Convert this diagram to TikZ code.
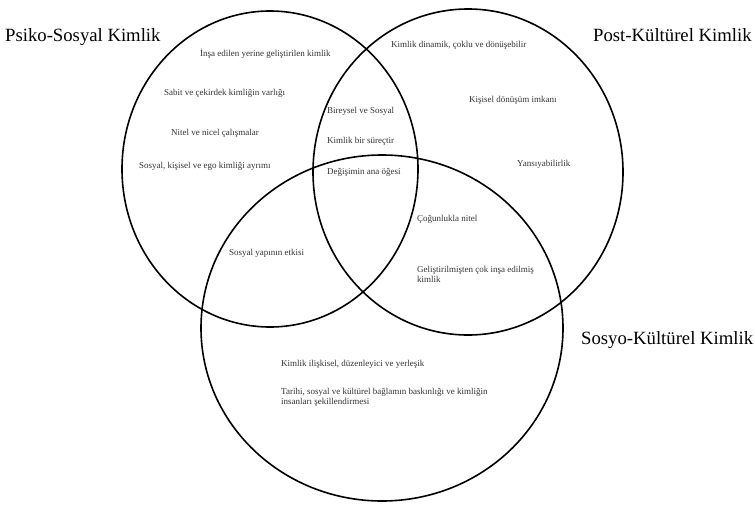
\documentclass[tikz,border=0pt]{standalone}
\usepackage{fontspec}
\setmainfont{Liberation Serif}
\usetikzlibrary{shapes.geometric}
\begin{document}
\begin{tikzpicture}[x=1pt,y=-1pt,
  ring/.style={draw=black, line width=1.6pt, ellipse, inner sep=0pt},
  small/.style={font=\fontsize{9}{10}\selectfont, text=black!80, anchor=base west, inner sep=0pt, align=left},
  big/.style={font=\fontsize{18.7}{20}\selectfont, text=black, anchor=base west, inner sep=0pt}]
\useasboundingbox (0,0) rectangle (755,506);
\node[ring, minimum width=296pt, minimum height=316pt] (c1) at (270,169) {};
\node[ring, minimum width=310pt, minimum height=326pt] (c2) at (468,172) {};
\node[ring, minimum width=362pt, minimum height=346pt] (c3) at (382,328) {};
% titles
\node[big] (t1) at (5,41) {Psiko-Sosyal Kimlik};
\node[big] (t2) at (593,41) {Post-Kültürel Kimlik};
\node[big] (t3) at (581,344) {Sosyo-Kültürel Kimlik};
% circle 1
\node[small] (a1) at (200,56) {İnşa edilen yerine geliştirilen kimlik};
\node[small] (a2) at (164,95) {Sabit ve çekirdek kimliğin varlığı};
\node[small] (a3) at (171,135) {Nitel ve nicel çalışmalar};
\node[small] (a4) at (139,168) {Sosyal, kişisel ve ego kimliği ayrımı};
% centre
\node[small] (m1) at (327,113) {Bireysel ve Sosyal};
\node[small] (m2) at (327,143) {Kimlik bir süreçtir};
\node[small] (m3) at (327,174) {Değişimin ana öğesi};
% circle 2
\node[small] (b1) at (391,47) {Kimlik dinamik, çoklu ve dönüşebilir};
\node[small] (b2) at (469,102) {Kişisel dönüşüm imkanı};
\node[small] (b3) at (517,166) {Yansıyabilirlik};
% 2 and 3
\node[small] (d1) at (417,221) {Çoğunlukla nitel};
\node[small, anchor=north west] (d2) at (417,266) {Geliştirilmişten çok inşa edilmiş\\kimlik};
% 1 and 3
\node[small] (e1) at (229,255) {Sosyal yapının etkisi};
% circle 3
\node[small] (s1) at (281,366) {Kimlik ilişkisel, düzenleyici ve yerleşik};
\node[small, anchor=north west] (s2) at (281,388) {Tarihi, sosyal ve kültürel bağlamın baskınlığı ve kimliğin\\insanları şekillendirmesi};
\end{tikzpicture}
\end{document}
